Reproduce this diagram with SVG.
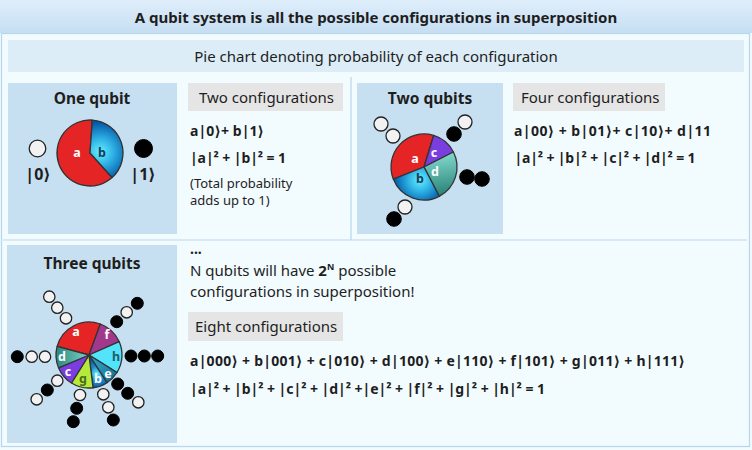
<svg xmlns="http://www.w3.org/2000/svg" width="752" height="450" viewBox="0 0 752 450">
<defs>
<linearGradient id="titleG" x1="0" y1="0" x2="0" y2="1"><stop offset="0" stop-color="#dfeefb"/><stop offset="1" stop-color="#c6def3"/></linearGradient>
<radialGradient id="blue1" gradientUnits="userSpaceOnUse" cx="100" cy="152" r="30"><stop offset="0" stop-color="#62f2ff"/><stop offset="0.45" stop-color="#2fb0e4"/><stop offset="1" stop-color="#0058a6"/></radialGradient>
<radialGradient id="blue2" gradientUnits="userSpaceOnUse" cx="420" cy="180" r="26"><stop offset="0" stop-color="#62f2ff"/><stop offset="0.45" stop-color="#2fb0e4"/><stop offset="1" stop-color="#0058a6"/></radialGradient>
<radialGradient id="blue3" gradientUnits="userSpaceOnUse" cx="97" cy="374" r="16"><stop offset="0" stop-color="#62f2ff"/><stop offset="0.5" stop-color="#1d86cc"/><stop offset="1" stop-color="#0058a6"/></radialGradient>
<linearGradient id="teal2" gradientUnits="userSpaceOnUse" x1="440" y1="155" x2="445" y2="195"><stop offset="0" stop-color="#7fd6ca"/><stop offset="1" stop-color="#2a8276"/></linearGradient>
<linearGradient id="teal3" gradientUnits="userSpaceOnUse" x1="58" y1="356" x2="89" y2="356"><stop offset="0" stop-color="#2f8c82"/><stop offset="1" stop-color="#7fd3c8"/></linearGradient>
<linearGradient id="tealE" gradientUnits="userSpaceOnUse" x1="100" y1="365" x2="115" y2="380"><stop offset="0" stop-color="#2a98b8"/><stop offset="1" stop-color="#126f94"/></linearGradient>
<style>
text{font-family:"Noto Sans","Open Sans","DejaVu Sans",sans-serif;fill:#1e1e1e}
.title{font-size:15px;font-weight:bold}
.band{font-size:15px}
.head{font-size:15.5px;font-weight:bold;text-anchor:middle}
.lbl{font-size:15px}
.f{font-size:14px;font-weight:bold}
.ket{font-size:16px;font-weight:bold;text-anchor:middle}
.note{font-size:13px}
.pl{font-size:12.5px;font-weight:bold;text-anchor:middle;fill:#fff}
.panel{fill:#c6dff1}
.tag{fill:#e5e5e5}
.wedge{stroke:#333;stroke-width:1.3;stroke-linejoin:round}
.w{fill:#f2f2f2;stroke:#222;stroke-width:1.3}
.k{fill:#000;stroke:#000;stroke-width:1}
.line{stroke:#b7d7ee;stroke-width:1.2;fill:none}
</style>
</defs>
<rect x="0" y="0" width="752" height="450" fill="#f2fbfe"/>
<g id="title">
<rect x="0" y="0" width="752" height="33" fill="url(#titleG)"/>
<text class="title" x="376" y="23" text-anchor="middle">A qubit system is all the possible configurations in superposition</text>
</g>
<rect class="line" x="1.5" y="33.5" width="748" height="413"/>
<g id="band">
<rect x="8" y="40" width="736" height="32" fill="#dcedf7"/>
<text class="band" x="376" y="62" text-anchor="middle">Pie chart denoting probability of each configuration</text>
</g>
<g id="connectors">
<line class="line" x1="351" y1="77" x2="351" y2="240"/>
<line class="line" x1="3" y1="240" x2="747" y2="240"/>
</g>
<g id="one-qubit">
<rect class="panel" x="8" y="83" width="169" height="151"/>
<text class="head" x="92" y="104">One qubit</text>
<path class="wedge" fill="#e52525" d="M90,153 L112.08,177.52 A33,33 0 1,1 92.30,120.08 Z"/>
<path class="wedge" fill="url(#blue1)" d="M90,153 L92.30,120.08 A33,33 0 0,1 112.08,177.52 Z"/>
<text class="pl" x="77" y="157">a</text>
<text class="pl" x="102" y="157" style="fill:#1b3a5a">b</text>
<circle class="w" cx="37.5" cy="148.5" r="8.3"/>
<circle class="k" cx="143.5" cy="148.5" r="9"/>
<text class="ket" x="38" y="180">|0⟩</text>
<text class="ket" x="143" y="180">|1⟩</text>
</g>
<g id="one-qubit-text">
<rect class="tag" x="188" y="83" width="155" height="28"/>
<text class="lbl" x="199" y="103">Two configurations</text>
<text class="f" x="190" y="136" textLength="74">a|0⟩+ b|1⟩</text>
<text class="f" x="190" y="163" textLength="96">|a|² + |b|² = 1</text>
<text class="note" x="190" y="188">(Total probability</text>
<text class="note" x="190" y="205">adds up to 1)</text>
</g>
<g id="two-qubits">
<rect class="panel" x="357" y="83" width="146" height="151"/>
<text class="head" x="430" y="104">Two qubits</text>
<path class="wedge" fill="#e52525" d="M424,167 L393.30,179.09 A33,33 0 0,1 433.65,135.44 Z"/>
<path class="wedge" fill="#7a3ee0" d="M424,167 L433.65,135.44 A33,33 0 0,1 453.40,152.02 Z"/>
<path class="wedge" fill="url(#teal2)" d="M424,167 L453.40,152.02 A33,33 0 0,1 439.19,196.30 Z"/>
<path class="wedge" fill="url(#blue2)" d="M424,167 L439.19,196.30 A33,33 0 0,1 393.30,179.09 Z"/>
<text class="pl" x="415" y="163">a</text>
<text class="pl" x="434" y="157">c</text>
<text class="pl" x="435" y="176">d</text>
<text class="pl" x="420" y="183" style="fill:#1b3a5a">b</text>
<circle class="w" cx="381" cy="124" r="7"/>
<circle class="w" cx="393" cy="136" r="7"/>
<circle class="k" cx="454" cy="134" r="7.3"/>
<circle class="w" cx="465" cy="122" r="7"/>
<circle class="k" cx="467" cy="177" r="7.3"/>
<circle class="k" cx="482" cy="179" r="7.3"/>
<circle class="w" cx="405" cy="207" r="7"/>
<circle class="k" cx="394" cy="219" r="7.3"/>
</g>
<g id="two-qubits-text">
<rect class="tag" x="513" y="83" width="152" height="28"/>
<text class="lbl" x="521" y="103">Four configurations</text>
<text class="f" x="514" y="136" textLength="197">a|00⟩ + b|01⟩+ c|10⟩+ d|11</text>
<text class="f" x="514.5" y="163" textLength="181">|a|² + |b|² + |c|² + |d|² = 1</text>
</g>
<g id="three-qubits">
<rect class="panel" x="7" y="245" width="170" height="198"/>
<text class="head" x="92" y="269">Three qubits</text>
<path class="wedge" fill="#e52525" d="M89,355 L57.12,346.46 A33,33 0 0,1 100.29,323.99 Z"/>
<path class="wedge" fill="#a2388c" d="M89,355 L100.29,323.99 A33,33 0 0,1 119.15,341.58 Z"/>
<path class="wedge" fill="#52e4fa" d="M89,355 L119.15,341.58 A33,33 0 0,1 116.98,372.49 Z"/>
<path class="wedge" fill="url(#tealE)" d="M89,355 L116.98,372.49 A33,33 0 0,1 106.97,382.68 Z"/>
<path class="wedge" fill="url(#blue3)" d="M89,355 L106.97,382.68 A33,33 0 0,1 93.02,387.75 Z"/>
<path class="wedge" fill="#b6ea3a" d="M89,355 L93.02,387.75 A33,33 0 0,1 71.51,382.98 Z"/>
<path class="wedge" fill="#7b3de0" d="M89,355 L71.51,382.98 A33,33 0 0,1 58.62,367.89 Z"/>
<path class="wedge" fill="url(#teal3)" d="M89,355 L58.62,367.89 A33,33 0 0,1 57.12,346.46 Z"/>
<text class="pl" x="76" y="336">a</text>
<text class="pl" x="107" y="339">f</text>
<text class="pl" x="116" y="361" style="fill:#1d5d6c">h</text>
<text class="pl" x="108" y="378">e</text>
<text class="pl" x="98" y="383">b</text>
<text class="pl" x="83" y="383" style="fill:#4c6a1c">g</text>
<text class="pl" x="68" y="376">c</text>
<text class="pl" x="62" y="361">d</text>
<circle class="w" cx="49.3" cy="296.7" r="5.7"/>
<circle class="w" cx="57.3" cy="307.7" r="5.7"/>
<circle class="w" cx="66" cy="318.3" r="5.7"/>
<circle class="k" cx="137.3" cy="303.3" r="6"/>
<circle class="w" cx="126.7" cy="312.3" r="5.7"/>
<circle class="k" cx="116.7" cy="321.7" r="6"/>
<circle class="k" cx="131" cy="356" r="6"/>
<circle class="k" cx="144.3" cy="356" r="6"/>
<circle class="k" cx="157.7" cy="356" r="6"/>
<circle class="k" cx="17.3" cy="356.7" r="6"/>
<circle class="w" cx="31.7" cy="356.7" r="5.7"/>
<circle class="w" cx="45" cy="356.7" r="5.7"/>
<circle class="k" cx="117.7" cy="384" r="6"/>
<circle class="k" cx="127.7" cy="393.3" r="6"/>
<circle class="w" cx="138.3" cy="402.3" r="5.7"/>
<circle class="w" cx="57.3" cy="380.7" r="5.7"/>
<circle class="k" cx="47.3" cy="390" r="6"/>
<circle class="w" cx="36.7" cy="399.3" r="5.7"/>
<circle class="w" cx="80" cy="395" r="5.7"/>
<circle class="k" cx="76.7" cy="408.3" r="6"/>
<circle class="k" cx="73.3" cy="421.7" r="6"/>
<circle class="w" cx="103.3" cy="394.3" r="5.7"/>
<circle class="w" cx="108.3" cy="407.3" r="5.7"/>
<circle class="k" cx="113.3" cy="420" r="6"/>
</g>
<g id="three-qubits-text">
<text class="f" x="190" y="254">...</text>
<text class="lbl" x="190" y="276">N qubits will have <tspan font-weight="bold">2</tspan><tspan font-weight="bold" font-size="9" dy="-6">N</tspan><tspan dy="6"> possible</tspan></text>
<text class="lbl" x="190" y="297">configurations in superposition!</text>
<rect class="tag" x="188" y="312" width="155" height="29"/>
<text class="lbl" x="195" y="332">Eight configurations</text>
<text class="f" x="190" y="366" textLength="495">a|000⟩ + b|001⟩ + c|010⟩ + d|100⟩ + e|110⟩ + f|101⟩ + g|011⟩ + h|111⟩</text>
<text class="f" x="190" y="394" textLength="355">|a|² + |b|² + |c|² + |d|² +|e|² + |f|² + |g|² + |h|²  = 1</text>
</g>
</svg>
